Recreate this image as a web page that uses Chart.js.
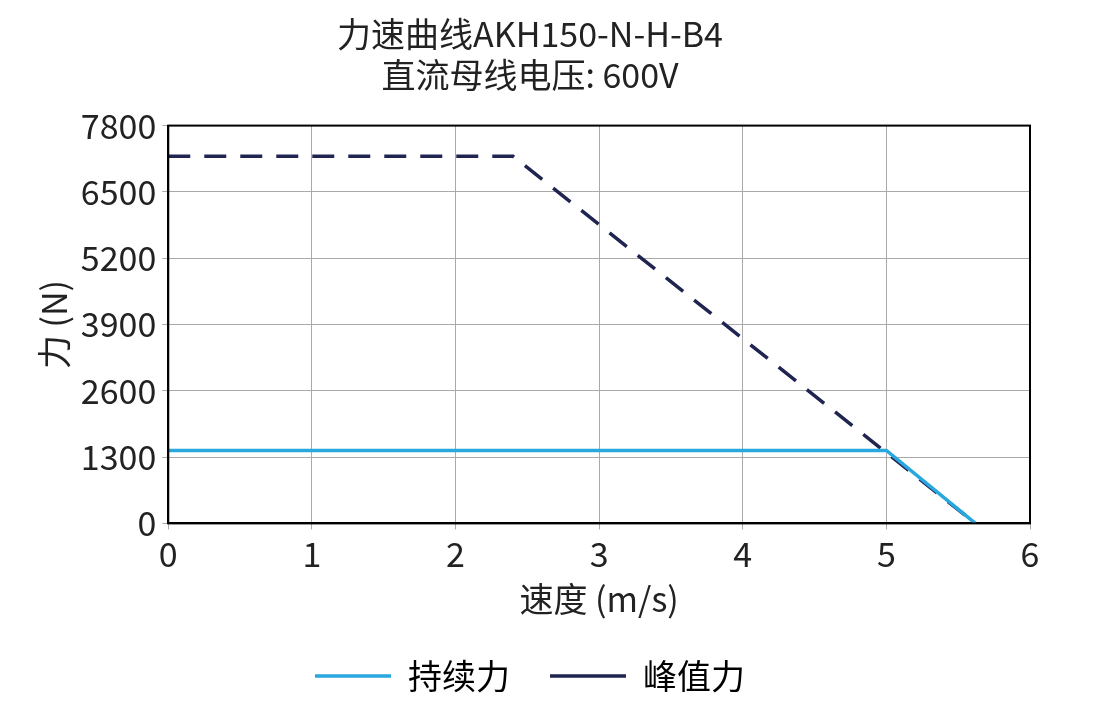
<!DOCTYPE html>
<html><head><meta charset="utf-8">
<script src="https://cdn.jsdelivr.net/npm/chart.js@4"></script>
<style>body{margin:0;background:#fff}#wrap{width:1096px;height:711px}</style>
</head><body><div id="wrap"><canvas id="c"></canvas></div>
<script>
var speedCont = [0, 5.0, 5.62];
var forceCont = [1430, 1430, 0];
var speedPeak = [0, 2.4, 5.62];
var forcePeak = [7200, 7200, 0];
var yTicks = [0, 1300, 2600, 3900, 5200, 6500, 7800];

function pts(xs, ys) {
	var out = [];
	for (var i in xs) out.push({x: xs[i], y: ys[i]});
	return out;
}

var font = "'Noto Sans CJK SC', 'Noto Sans', sans-serif";
Chart.defaults.font.family = font;
Chart.defaults.color = "#222";

new Chart(document.getElementById('c').getContext('2d'), {
	type: 'line',
	data: {datasets: [
		{label: "持续力", data: pts(speedCont, forceCont), borderColor: "#29a8e0", borderWidth: 3.5, pointRadius: 0, fill: false},
		{label: "峰值力", data: pts(speedPeak, forcePeak), borderColor: "#1f2550", borderWidth: 3.5, borderDash: [22, 14], pointRadius: 0, fill: false}
	]},
	options: {
		responsive: true, maintainAspectRatio: false, animation: false,
		layout: {padding: {left: 30, right: 66, top: 14, bottom: 8}},
		plugins: {
			title: {display: true, text: ["力速曲线AKH150-N-H-B4", "直流母线电压: 600V"], font: {size: 34, weight: 'normal'}, color: "#222", padding: {top: 0, bottom: 30}, lineHeight: 1.2},
			legend: {position: 'bottom', labels: {font: {size: 34}, boxWidth: 76, boxHeight: 0, padding: 40,
				generateLabels: function(ch) {
					return ch.data.datasets.map(function(d, i) {
						return {text: d.label, strokeStyle: d.borderColor, fillStyle: d.borderColor, lineWidth: 3.5, lineDash: d.borderDash || [], datasetIndex: i};
					});
				}}},
			tooltip: {enabled: false}
		},
		scales: {
			x: {type: 'linear', min: 0, max: 6,
				ticks: {stepSize: 1, font: {size: 34}, color: "#222", padding: 4},
				grid: {color: "#aaa", lineWidth: 1, tickLength: 6},
				border: {color: "#000", width: 2},
				title: {display: true, text: "速度 (m/s)", font: {size: 34}, color: "#222", padding: {top: 0, bottom: 0}}
			},
			y: {min: 0, max: 7800,
				afterBuildTicks: function(s) { s.ticks = yTicks.map(function(v) { return {value: v}; }); },
				ticks: {font: {size: 34}, color: "#222", padding: 6, callback: function(v) { return String(v); }},
				grid: {color: "#aaa", lineWidth: 1, tickLength: 6},
				border: {color: "#000", width: 2},
				title: {display: true, text: "力 (N)", font: {size: 34}, color: "#222", padding: {bottom: 0}}
			}
		}
	},
	plugins: [{id: 'frame', afterDraw: function(ch) {
		var a = ch.chartArea, c = ch.ctx;
		c.save(); c.strokeStyle = "#000"; c.lineWidth = 2;
		c.strokeRect(a.left, a.top, a.right - a.left, a.bottom - a.top); c.restore();
	}}]
});
</script></body></html>
